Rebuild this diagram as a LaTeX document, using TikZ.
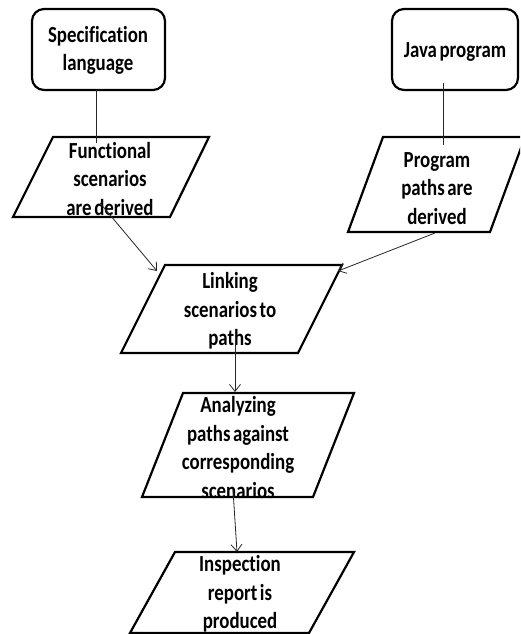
\documentclass[tikz,border=0pt]{standalone}
\usepackage{fontspec}
\newfontfamily\cfont{Carlito}[FakeStretch=0.82, Ligatures=NoCommon, WordSpace=0.6]
\usetikzlibrary{arrows.meta}
\tikzset{
  rbox/.style={draw, line width=2.2pt, rounded corners=12pt, inner sep=0pt},
  para/.style={draw, line width=2.2pt, line join=miter},
  txt/.style={align=center, inner sep=0pt, font=\cfont\bfseries\fontsize{23}{28.5}\selectfont},
  conn/.style={line width=0.8pt, draw=black!85},
  arr/.style={conn, -{Straight Barb[length=7pt,width=11pt,line width=0.8pt]}}
}
\begin{document}
\begin{tikzpicture}[x=1pt,y=-1pt]
\useasboundingbox (0,0) rectangle (520,634);
\clip (0,0) rectangle (520,634);
% start boxes
\node[rbox, minimum width=133pt, minimum height=81pt] (spec) at (98.5,49.5) {};
\node[txt] (spect) at (98,50.5) {Specification\\language};
\node[rbox, minimum width=126pt, minimum height=81pt] (java) at (455,49.5) {};
\node[txt] (javat) at (455,52) {Java program};
% parallelograms
\draw[para] (53,137) -- (209,137) -- (170,217) -- (13,217) -- cycle;
\node[txt] (func) at (110,179) {Functional\\scenarios\\are derived};
\draw[para] (383,137) -- (525,137) -- (490,232) -- (348,232) -- cycle;
\node[txt] (prog) at (437,188.5) {Program\\paths are\\derived};
\draw[para] (165,265) -- (342,265) -- (298,353) -- (121,353) -- cycle;
\node[txt] (link) at (230,311) {Linking\\scenarios to\\paths};
\draw[para] (183,393) -- (354,393) -- (313,497) -- (142,497) -- cycle;
\node[txt] (anal) at (238,447.5) {Analyzing\\paths against\\corresponding\\scenarios};
\draw[para] (175,552) -- (354,552) -- (309,633) -- (130,633) -- cycle;
\node[txt] (insp) at (240,594) {Inspection\\report is\\produced};
% connector end points
\coordinate (a1) at (96,90);   \coordinate (b1) at (96,143);
\coordinate (a2) at (443,83);  \coordinate (b2) at (443,145);
\coordinate (a3) at (100,203); \coordinate (b3) at (157,271);
\coordinate (a4) at (435,233); \coordinate (b4) at (338,271);
\coordinate (a5) at (235,345); \coordinate (b5) at (235,392);
\coordinate (a6) at (233,490); \coordinate (b6) at (237,552);
\draw[conn] (a1) -- (b1);
\draw[conn] (a2) -- (b2);
\draw[arr] (a3) -- (b3);
\draw[arr] (a4) -- (b4);
\draw[arr] (a5) -- (b5);
\draw[arr] (a6) -- (b6);
\end{tikzpicture}
\end{document}
